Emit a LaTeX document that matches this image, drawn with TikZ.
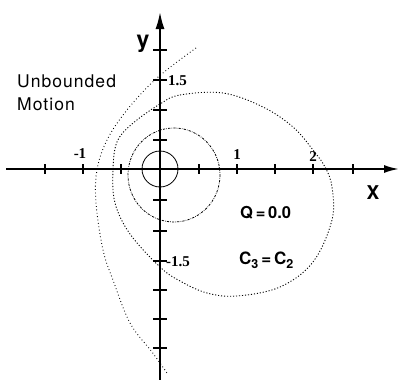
\documentclass[tikz,border=0pt]{standalone}
\usepackage{fontspec}
\setmainfont{TeX Gyre Heros}
\newfontfamily\numfont{Liberation Serif}
\newfontfamily\lblfont[LetterSpace=6]{TeX Gyre Heros}
\usetikzlibrary{arrows.meta}
\newcommand{\lowsub}[1]{\raisebox{-4.5pt}{\fontsize{12.5}{12.5}\selectfont #1}}
\begin{document}
\begin{tikzpicture}[x=1pt,y=-1pt,
  axis/.style={line width=1.9pt},
  tickmark/.style={line width=1.1pt},
  solidorbit/.style={line width=0.8pt},
  dashorbit/.style={line width=0.8pt,dash pattern=on 2.2pt off 1.2pt on 0.6pt off 1.2pt},
  dotorbit/.style={line width=0.9pt,dash pattern=on 1.1pt off 1.9pt},
  fineorbit/.style={line width=0.9pt,dash pattern=on 0.8pt off 2.6pt},
  numlbl/.style={font=\numfont\bfseries\fontsize{15}{15}\selectfont,inner sep=0pt},
  sanslbl/.style={inner sep=0pt,anchor=base west}]
\useasboundingbox (0,0) rectangle (399,380);
\coordinate (O) at (160,169);
\coordinate (xs) at (6,169);
\coordinate (xe) at (399,169);
\coordinate (ys) at (160,380);
\coordinate (ye) at (160,12);
% axes
\draw[axis,-{Latex[length=15pt,width=8pt]}] (xs) -- (xe);
\draw[axis,-{Latex[length=17pt,width=9pt]}] (ys) -- (ye);
% x ticks
\foreach \x in {45,83,121,199,237,275,313,353}
  \draw[tickmark] (\x,164) -- (\x,174);
% y ticks
\foreach \y in {50,80,110,140,200,231,261,290,319,348}
  \draw[tickmark] (153,\y) -- (167,\y);
% small circle
\draw[solidorbit] (O) circle[radius=18];
% second orbit
\draw[dashorbit] (174,175) ellipse[x radius=46, y radius=47];
% third orbit (closed loop)
\draw[dotorbit] plot[smooth cycle,tension=0.6] coordinates {
  (160,104) (180,95) (223,93) (263,107) (293,127) (313,150) (325,167)
  (332,187) (332,220) (313,262) (280,287) (237,296) (207,293) (180,281)
  (160,267) (130,234) (115,203) (113,170) (117,142) (132,124)};
% outer orbit (unbounded)
\draw[fineorbit] plot[smooth,tension=0.6] coordinates {
  (196,48) (157,78) (127,110) (107,140) (97,170) (96,203) (103,250)
  (113,280) (130,323) (152,352) (167,373)};
% labels
\node[font=\bfseries\fontsize{23}{23}\selectfont,inner sep=0pt] (ylab) at (143,44) {y};
\node[font=\bfseries\fontsize{19}{19}\selectfont,inner sep=0pt] (xlab) at (373,193) {X};
\node[numlbl,anchor=base] (m1) at (80,158) {-1};
\node[numlbl,anchor=base] (p1) at (237,159) {1};
\node[numlbl,anchor=base] (p2) at (313,161) {2};
\node[numlbl,anchor=base west] (yp) at (168,85) {1.5};
\node[numlbl,anchor=base west] (ym) at (166,266) {-1.5};
\node[sanslbl,font=\lblfont\fontsize{17.5}{17.5}\selectfont] (ub1) at (17,87) {Unbounded};
\node[sanslbl,font=\lblfont\fontsize{17.5}{17.5}\selectfont] (ub2) at (17,110) {Motion};
\node[sanslbl,font=\bfseries\fontsize{16.5}{16.5}\selectfont] (q) at (240,218) {Q\,=\,0.0};
\node[sanslbl,font=\bfseries\fontsize{17}{17}\selectfont] (c) at (239,264) {C\lowsub{3}\,=\,C\lowsub{2}};
\end{tikzpicture}
\end{document}
